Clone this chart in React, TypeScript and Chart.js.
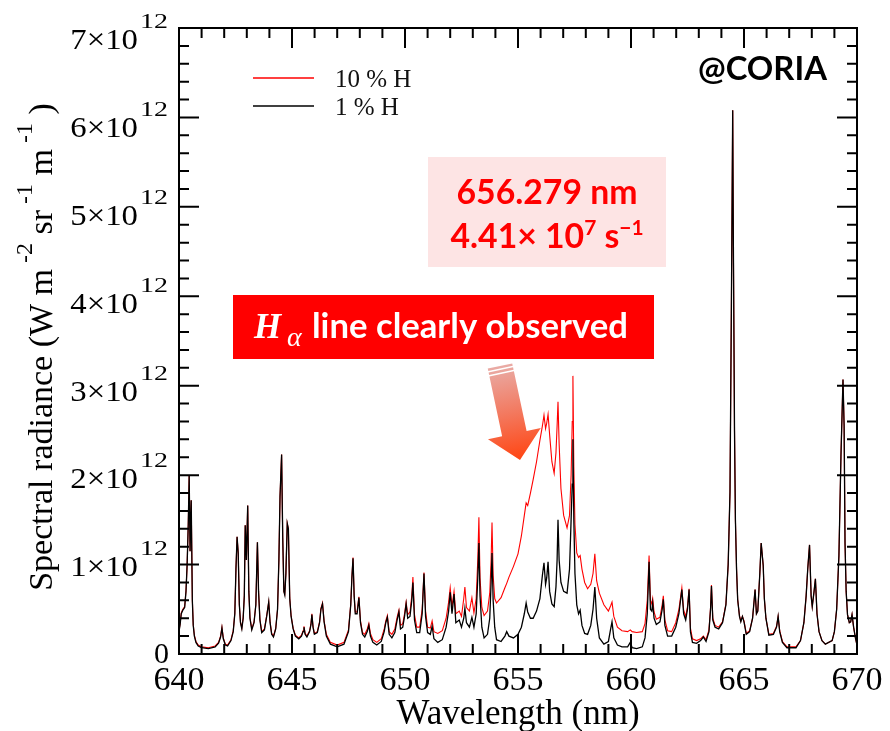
import React, { useEffect, useRef } from "react";
import { Chart, registerables } from "chart.js";

Chart.register(...registerables);

// Wavelength in nm
const wavelength = [
  640.00, 640.05, 640.10, 640.17, 640.25, 640.31, 640.36, 640.41, 640.45, 640.49, 640.54, 640.59, 640.63,
  640.68, 640.75, 640.85, 641.00, 641.30, 641.60, 641.75, 641.84, 641.90, 641.96, 642.05, 642.15,
  642.30, 642.40, 642.47, 642.52, 642.57, 642.62, 642.67, 642.72, 642.78, 642.84, 642.89, 642.93, 642.98,
  643.04, 643.09, 643.14, 643.22, 643.32, 643.40, 643.47, 643.52, 643.58, 643.66, 643.78, 643.88, 643.97,
  644.03, 644.10, 644.18, 644.28, 644.36, 644.42, 644.47, 644.54, 644.59, 644.64, 644.68, 644.73, 644.79,
  644.84, 644.90, 644.96, 645.05, 645.15, 645.30,
  645.42, 645.49, 645.53, 645.58, 645.66, 645.78, 645.84, 645.88, 645.93, 645.99, 646.12, 646.22, 646.28,
  646.35, 646.42, 646.52, 646.70, 647.00, 647.30, 647.50, 647.60, 647.65, 647.70, 647.75, 647.80, 647.88,
  647.96, 648.03, 648.12, 648.22, 648.33, 648.40, 648.47, 648.58, 648.75, 648.95, 649.08, 649.15, 649.22,
  649.30, 649.42, 649.55, 649.65, 649.73, 649.80, 649.90, 649.98, 650.05, 650.12,
  650.22, 650.30, 650.35, 650.42, 650.52, 650.65, 650.76, 650.84, 650.91, 651.00, 651.12, 651.20, 651.28,
  651.45, 651.65, 651.82, 651.93, 652.00, 652.08, 652.17, 652.25, 652.40, 652.50, 652.60, 652.65, 652.72,
  652.85, 652.96, 653.05, 653.15, 653.22, 653.27, 653.32, 653.40, 653.50, 653.65, 653.75, 653.81, 653.85,
  653.90, 653.97, 654.05,
  654.25, 654.42, 654.50, 654.60, 654.80, 655.00, 655.15, 655.28, 655.36, 655.43, 655.55, 655.67, 655.82,
  655.97, 656.08, 656.15, 656.22, 656.27, 656.33, 656.40, 656.50, 656.60, 656.68, 656.73, 656.77, 656.82,
  656.90, 657.02, 657.17, 657.28, 657.35, 657.40, 657.43, 657.47, 657.52, 657.60, 657.68, 657.75, 657.83,
  657.95, 658.08, 658.22, 658.32, 658.40, 658.48, 658.60, 658.80, 659.00, 659.10, 659.16, 659.24, 659.40,
  659.60, 659.85, 659.97, 660.05,
  660.25, 660.50, 660.62, 660.72, 660.80, 660.86, 660.92, 660.96, 661.02, 661.12, 661.28, 661.38, 661.43,
  661.50, 661.62, 661.80, 661.98, 662.12, 662.25, 662.33, 662.42, 662.50, 662.57, 662.63, 662.72, 662.90,
  663.08, 663.20, 663.32, 663.45, 663.52, 663.56, 663.62, 663.72, 663.88,
  664.05, 664.20, 664.30, 664.38, 664.44, 664.50, 664.53, 664.58, 664.62, 664.67, 664.72, 664.80, 664.86,
  664.93, 665.00, 665.10, 665.25, 665.38, 665.49, 665.55, 665.61, 665.70, 665.76, 665.85, 665.90, 665.97,
  666.10, 666.30, 666.44, 666.51, 666.58, 666.70, 666.90, 667.30, 667.50, 667.65, 667.75, 667.82, 667.90,
  667.97, 668.02, 668.10, 668.16, 668.23, 668.32, 668.45, 668.60, 668.90, 669.00, 669.10, 669.20, 669.29,
  669.38, 669.43, 669.47, 669.52, 669.58, 669.66, 669.72, 669.78, 669.85, 669.93, 670.00,
];

// Spectral radiance, 1 % H, in units of 10^12 W m^-2 sr^-1 m^-1
const radiance1H = [
  0.25, 0.33, 0.45, 0.49, 0.52, 0.70, 1.00, 1.45, 2.00, 1.15, 1.72, 0.60, 0.32,
  0.20, 0.13, 0.09, 0.07, 0.06, 0.08, 0.12, 0.19, 0.29, 0.17, 0.10, 0.09,
  0.15, 0.25, 0.45, 0.95, 1.31, 1.13, 0.55, 0.35, 0.28, 0.40, 0.65, 1.44, 1.05,
  1.66, 0.70, 0.40, 0.27, 0.35, 0.55, 1.25, 0.70, 0.38, 0.24, 0.27, 0.42, 0.58,
  0.35, 0.22, 0.19, 0.28, 0.50, 1.05, 1.76, 2.23, 1.30, 0.70, 0.66, 0.90, 1.46,
  1.40, 0.62, 0.42, 0.28, 0.20, 0.17,
  0.20, 0.25, 0.30, 0.22, 0.19, 0.25, 0.33, 0.44, 0.30, 0.22, 0.24, 0.35, 0.50,
  0.56, 0.36, 0.20, 0.11, 0.08, 0.11, 0.25, 0.55, 0.85, 1.07, 0.65, 0.45, 0.45,
  0.63, 0.35, 0.22, 0.19, 0.25, 0.32, 0.20, 0.13, 0.10, 0.14, 0.25, 0.35, 0.41,
  0.22, 0.18, 0.24, 0.38, 0.47, 0.28, 0.30, 0.42, 0.56, 0.40,
  0.42, 0.60, 0.80, 0.38, 0.24, 0.24, 0.45, 0.90, 0.42, 0.24, 0.22, 0.31, 0.17,
  0.13, 0.16, 0.30, 0.48, 0.69, 0.45, 0.67, 0.35, 0.38, 0.30, 0.40, 0.51, 0.35,
  0.30, 0.41, 0.30, 0.45, 0.85, 1.24, 0.65, 0.30, 0.18, 0.22, 0.40, 0.80, 1.13,
  0.60, 0.30, 0.16,
  0.14, 0.20, 0.25, 0.20, 0.18, 0.22, 0.30, 0.45, 0.57, 0.47, 0.40, 0.40, 0.48,
  0.62, 0.88, 1.02, 0.78, 0.85, 1.03, 0.70, 0.56, 0.53, 0.75, 1.05, 1.50, 1.05,
  0.80, 0.70, 0.68, 0.95, 1.50, 1.90, 2.40, 1.50, 0.90, 0.55, 0.45, 0.49, 0.32,
  0.23, 0.22, 0.32, 0.50, 0.75, 0.40, 0.18, 0.11, 0.14, 0.28, 0.36, 0.18, 0.10,
  0.08, 0.08, 0.13, 0.07,
  0.06, 0.08, 0.18, 0.45, 1.03, 0.50, 0.48, 0.57, 0.40, 0.33, 0.36, 0.50, 0.61,
  0.32, 0.20, 0.20, 0.30, 0.45, 0.72, 0.45, 0.38, 0.50, 0.72, 0.25, 0.13, 0.12,
  0.15, 0.19, 0.14, 0.25, 0.50, 0.76, 0.38, 0.30, 0.28,
  0.35, 0.55, 1.00, 1.81, 3.81, 6.08, 4.57, 2.50, 1.50, 0.95, 0.61, 0.42, 0.36,
  0.42, 0.36, 0.22, 0.25, 0.40, 0.72, 0.45, 0.48, 0.90, 1.24, 0.99, 0.62, 0.40,
  0.21, 0.22, 0.30, 0.42, 0.25, 0.13, 0.07, 0.07, 0.15, 0.35, 0.65, 0.95, 1.22,
  0.65, 0.53, 0.70, 0.84, 0.45, 0.25, 0.15, 0.11, 0.15, 0.25, 0.50, 1.10, 2.21,
  3.07, 2.55, 1.24, 0.70, 0.44, 0.35, 0.36, 0.44, 0.30, 0.18, 0.10,
];

// Spectral radiance, 10 % H, in units of 10^12 W m^-2 sr^-1 m^-1
const radiance10H = [
  0.26, 0.34, 0.46, 0.50, 0.53, 0.71, 1.00, 1.45, 2.00, 1.15, 1.72, 0.61, 0.33,
  0.21, 0.14, 0.10, 0.08, 0.07, 0.09, 0.13, 0.20, 0.30, 0.18, 0.11, 0.10,
  0.16, 0.26, 0.46, 0.95, 1.31, 1.13, 0.55, 0.36, 0.29, 0.41, 0.65, 1.44, 1.05,
  1.66, 0.70, 0.41, 0.28, 0.36, 0.55, 1.25, 0.70, 0.39, 0.25, 0.28, 0.43, 0.58,
  0.36, 0.23, 0.20, 0.29, 0.50, 1.05, 1.76, 2.23, 1.30, 0.70, 0.67, 0.90, 1.46,
  1.40, 0.63, 0.43, 0.29, 0.21, 0.18,
  0.21, 0.26, 0.31, 0.23, 0.20, 0.26, 0.34, 0.45, 0.31, 0.23, 0.25, 0.36, 0.51,
  0.57, 0.37, 0.22, 0.13, 0.10, 0.13, 0.27, 0.56, 0.86, 1.08, 0.66, 0.47, 0.47,
  0.64, 0.37, 0.24, 0.22, 0.28, 0.34, 0.23, 0.16, 0.13, 0.17, 0.28, 0.37, 0.43,
  0.25, 0.22, 0.28, 0.41, 0.49, 0.32, 0.34, 0.45, 0.58, 0.44,
  0.47, 0.65, 0.86, 0.44, 0.30, 0.30, 0.50, 0.91, 0.48, 0.30, 0.29, 0.37, 0.25,
  0.23, 0.26, 0.40, 0.58, 0.74, 0.53, 0.70, 0.45, 0.48, 0.42, 0.62, 0.75, 0.52,
  0.48, 0.63, 0.46, 0.62, 1.05, 1.53, 0.85, 0.52, 0.43, 0.48, 0.68, 1.05, 1.47,
  0.88, 0.62, 0.57,
  0.63, 0.74, 0.79, 0.86, 0.98, 1.12, 1.32, 1.55, 1.69, 1.66, 1.80, 1.95, 2.15,
  2.39, 2.55, 2.67, 2.52, 2.58, 2.68, 2.45, 2.15, 2.02, 2.25, 2.55, 2.82, 2.35,
  1.85, 1.55, 1.41, 1.55, 2.00, 2.60, 3.11, 2.10, 1.45, 1.13, 1.08, 1.10, 0.95,
  0.80, 0.73, 0.78, 0.90, 1.12, 0.82, 0.68, 0.55, 0.48, 0.54, 0.58, 0.42, 0.30,
  0.26, 0.25, 0.27, 0.25,
  0.24, 0.25, 0.34, 0.60, 1.10, 0.60, 0.56, 0.62, 0.47, 0.39, 0.41, 0.55, 0.65,
  0.38, 0.26, 0.25, 0.35, 0.50, 0.74, 0.49, 0.42, 0.53, 0.73, 0.29, 0.17, 0.15,
  0.17, 0.20, 0.16, 0.27, 0.52, 0.77, 0.40, 0.32, 0.30,
  0.36, 0.56, 1.00, 1.81, 3.81, 6.08, 4.57, 2.50, 1.50, 0.95, 0.61, 0.43, 0.37,
  0.42, 0.37, 0.23, 0.26, 0.40, 0.72, 0.45, 0.48, 0.90, 1.24, 0.99, 0.62, 0.40,
  0.22, 0.23, 0.31, 0.42, 0.26, 0.14, 0.08, 0.08, 0.15, 0.35, 0.65, 0.95, 1.22,
  0.65, 0.53, 0.70, 0.84, 0.45, 0.25, 0.15, 0.11, 0.15, 0.25, 0.50, 1.10, 2.21,
  3.07, 2.55, 1.24, 0.70, 0.44, 0.35, 0.36, 0.44, 0.30, 0.18, 0.10,
];

const xMajorTicks = [640, 645, 650, 655, 660, 665, 670];
const xTickLabels = ["640", "645", "650", "655", "660", "665", "670"];
const yMajorTicks = [0, 1, 2, 3, 4, 5, 6, 7];
const yTickMantissa = ["0", "1×10", "2×10", "3×10", "4×10", "5×10", "6×10", "7×10"];
const yTickExponent = ["", "12", "12", "12", "12", "12", "12", "12"];
const xMinorStep = 1;
const yMinorStep = 0.2;

const seriesLabels = ["10 % H", "1 % H"];
const seriesColors = ["#ff0000", "#000000"];

const xTitle = "Wavelength (nm)";
const yTitleParts = [
  { t: "Spectral radiance (W m", sup: false },
  { t: " -2", sup: true },
  { t: " sr", sup: false },
  { t: " -1", sup: true },
  { t: " m", sup: false },
  { t: " -1", sup: true },
  { t: " )", sup: false },
];
const watermark = "@CORIA";
const infoLine1 = "656.279 nm";
const infoLine2 = [
  { t: "4.41× 10", sup: false },
  { t: "7", sup: true },
  { t: " s", sup: false },
  { t: "−1", sup: true },
];
const bannerSymbol = "H";
const bannerSub = "α";
const bannerText = "line clearly observed";

const SERIF = "'Liberation Serif', 'Times New Roman', serif";
const SANS = "Lato, 'Open Sans', sans-serif";

function fitSize(ctx: CanvasRenderingContext2D, text: string, weight: string, family: string, target: number) {
  ctx.font = `${weight} 100px ${family}`;
  const w = ctx.measureText(text).width;
  return (100 * target) / w;
}

function stretched(ctx: CanvasRenderingContext2D, text: string, x: number, y: number, sx: number, align: CanvasTextAlign) {
  ctx.save();
  ctx.translate(x, y);
  ctx.scale(sx, 1);
  ctx.textAlign = align;
  ctx.fillText(text, 0, 0);
  ctx.restore();
}

const overlayPlugin = {
  id: "overlay",
  afterDraw(chart: any) {
    const ctx: CanvasRenderingContext2D = chart.ctx;
    const xs = chart.scales.x;
    const ys = chart.scales.y;
    const { left, right, top, bottom } = chart.chartArea;
    ctx.save();

    // frame
    ctx.strokeStyle = "#000";
    ctx.lineWidth = 2;
    ctx.strokeRect(left, top, right - left, bottom - top);

    // x ticks (inward, top & bottom)
    const nx = Math.round((xs.max - xs.min) / xMinorStep);
    for (let i = 0; i <= nx; i++) {
      const v = xs.min + i * xMinorStep;
      const px = xs.getPixelForValue(v);
      const len = xMajorTicks.includes(v) ? 20 : 10;
      ctx.beginPath();
      ctx.moveTo(px, bottom);
      ctx.lineTo(px, bottom - len);
      ctx.moveTo(px, top);
      ctx.lineTo(px, top + len);
      ctx.stroke();
    }
    // y ticks (inward, left & right)
    const ny = Math.round((ys.max - ys.min) / yMinorStep);
    for (let i = 0; i <= ny; i++) {
      const v = ys.min + i * yMinorStep;
      const py = ys.getPixelForValue(v);
      const major = Math.abs(v - Math.round(v)) < 1e-6;
      const len = major ? 20 : 10;
      ctx.beginPath();
      ctx.moveTo(left, py);
      ctx.lineTo(left + len, py);
      ctx.moveTo(right, py);
      ctx.lineTo(right - len, py);
      ctx.stroke();
    }

    // x tick labels
    ctx.fillStyle = "#000";
    ctx.textBaseline = "alphabetic";
    ctx.font = `34px ${SERIF}`;
    xMajorTicks.forEach((v, i) => {
      ctx.textAlign = "center";
      ctx.fillText(xTickLabels[i], xs.getPixelForValue(v), bottom + 36);
    });

    // y tick labels
    yMajorTicks.forEach((v, i) => {
      const py = ys.getPixelForValue(v);
      if (!yTickExponent[i]) {
        ctx.font = `30px ${SERIF}`;
        stretched(ctx, yTickMantissa[i], left - 10, py + 9, 1.0, "right");
        return;
      }
      const base = py + 10 + v * 1.6;
      ctx.font = `29px ${SERIF}`;
      stretched(ctx, yTickMantissa[i], left - 41, base, 1.13, "right");
      ctx.font = `20px ${SERIF}`;
      stretched(ctx, yTickExponent[i], left - 39, base - 21, 1.4, "left");
    });

    // x title
    ctx.font = `35px ${SERIF}`;
    ctx.textAlign = "center";
    ctx.fillText(xTitle, (left + right) / 2, bottom + 70);

    // y title (rotated)
    ctx.save();
    ctx.translate(52, 347);
    ctx.rotate(-Math.PI / 2);
    ctx.textAlign = "left";
    let total = 0;
    const widths = yTitleParts.map((p) => {
      ctx.font = p.sup ? `24px ${SERIF}` : `34px ${SERIF}`;
      const w = ctx.measureText(p.t).width;
      total += w;
      return w;
    });
    let cx = -total / 2;
    yTitleParts.forEach((p, i) => {
      ctx.font = p.sup ? `24px ${SERIF}` : `34px ${SERIF}`;
      ctx.fillText(p.t, cx, p.sup ? -20 : 0);
      cx += widths[i];
    });
    ctx.restore();

    // legend
    ctx.lineWidth = 1.3;
    [78, 106].forEach((y, i) => {
      ctx.strokeStyle = seriesColors[i];
      ctx.beginPath();
      ctx.moveTo(253, y);
      ctx.lineTo(314, y);
      ctx.stroke();
      ctx.fillStyle = "#111";
      ctx.font = `25px ${SERIF}`;
      ctx.textAlign = "left";
      ctx.fillText(seriesLabels[i], 335, y + 9);
    });

    // watermark
    ctx.fillStyle = "#000";
    const wmSize = fitSize(ctx, watermark, "bold", SANS, 129);
    ctx.font = `bold ${wmSize}px ${SANS}`;
    ctx.textAlign = "left";
    ctx.fillText(watermark, 698, 80);

    // info box
    ctx.fillStyle = "#fde4e4";
    ctx.fillRect(428, 157, 238, 110);
    ctx.fillStyle = "#ff0000";
    const infoSize = fitSize(ctx, infoLine1, "bold", SANS, 181);
    ctx.font = `bold ${infoSize}px ${SANS}`;
    ctx.textAlign = "center";
    ctx.fillText(infoLine1, 547, 204);
    ctx.textAlign = "left";
    const supSize = infoSize * 0.62;
    let tw = 0;
    const iw = infoLine2.map((p) => {
      ctx.font = `bold ${p.sup ? supSize : infoSize}px ${SANS}`;
      const w = ctx.measureText(p.t).width;
      tw += w;
      return w;
    });
    let ix = 547 - tw / 2;
    infoLine2.forEach((p, i) => {
      ctx.font = `bold ${p.sup ? supSize : infoSize}px ${SANS}`;
      ctx.fillText(p.t, ix, p.sup ? 248 - infoSize * 0.38 : 248);
      ix += iw[i];
    });

    // banner
    ctx.fillStyle = "#ff0000";
    ctx.fillRect(233, 295, 421, 64);
    ctx.fillStyle = "#ffffff";
    ctx.font = `italic bold 35px ${SERIF}`;
    ctx.fillText(bannerSymbol, 254, 338);
    ctx.font = `italic 28px ${SERIF}`;
    ctx.fillText(bannerSub, 287, 346);
    const bSize = fitSize(ctx, bannerText, "bold", SANS, 316);
    ctx.font = `bold ${bSize}px ${SANS}`;
    ctx.fillText(bannerText, 312, 338);

    // arrow
    const S = { x: 500, y: 366 };
    const T = { x: 520, y: 460 };
    const L = Math.hypot(T.x - S.x, T.y - S.y);
    const d = { x: (T.x - S.x) / L, y: (T.y - S.y) / L };
    const n = { x: -d.y, y: d.x };
    const P = (u: number, v: number): [number, number] => [S.x + d.x * u + n.x * v, S.y + d.y * u + n.y * v];
    const grad = ctx.createLinearGradient(S.x, S.y, T.x, T.y);
    grad.addColorStop(0, "#e9aba5");
    grad.addColorStop(0.5, "#f3795f");
    grad.addColorStop(1, "#ff4512");
    ctx.fillStyle = grad;
    const sw = 12.5, hw = 27, hl = 27;
    const poly = (pts: [number, number][]) => {
      ctx.beginPath();
      ctx.moveTo(pts[0][0], pts[0][1]);
      for (let k = 1; k < pts.length; k++) ctx.lineTo(pts[k][0], pts[k][1]);
      ctx.closePath();
      ctx.fill();
    };
    poly([P(0, -sw), P(2.5, -sw), P(2.5, sw), P(0, sw)]);
    poly([P(4, -sw), P(6.5, -sw), P(6.5, sw), P(4, sw)]);
    poly([P(8, -sw), P(L - hl, -sw), P(L - hl, -hw), P(L, 0), P(L - hl, hw), P(L - hl, sw), P(8, sw)]);

    ctx.restore();
  },
};

export default function App() {
  const ref = useRef<HTMLCanvasElement | null>(null);
  useEffect(() => {
    document.body.style.margin = "0";
    const canvas = ref.current;
    if (!canvas) return;
    const chart = new Chart(canvas, {
      type: "line",
      data: {
        datasets: [
          {
            label: seriesLabels[1],
            data: wavelength.map((x, i) => ({ x, y: radiance1H[i] })),
            borderColor: seriesColors[1],
            borderWidth: 1.3,
            pointRadius: 0,
            tension: 0,
            fill: false,
          },
          {
            label: seriesLabels[0],
            data: wavelength.map((x, i) => ({ x, y: radiance10H[i] })),
            borderColor: seriesColors[0],
            borderWidth: 1.1,
            pointRadius: 0,
            tension: 0,
            fill: false,
          },
        ],
      },
      options: {
        animation: false,
        responsive: false,
        devicePixelRatio: 1,
        layout: { padding: { left: 179, right: 33, top: 28, bottom: 77 } },
        plugins: { legend: { display: false }, tooltip: { enabled: false }, title: { display: false } },
        scales: {
          x: { type: "linear", min: 640, max: 670, display: false },
          y: { type: "linear", min: 0, max: 7, display: false },
        },
      },
      plugins: [overlayPlugin],
    });
    return () => chart.destroy();
  }, []);
  return (
    <div style={{ width: 890, height: 731, background: "#fff" }}>
      <canvas ref={ref} width={890} height={731} style={{ display: "block" }} />
    </div>
  );
}
